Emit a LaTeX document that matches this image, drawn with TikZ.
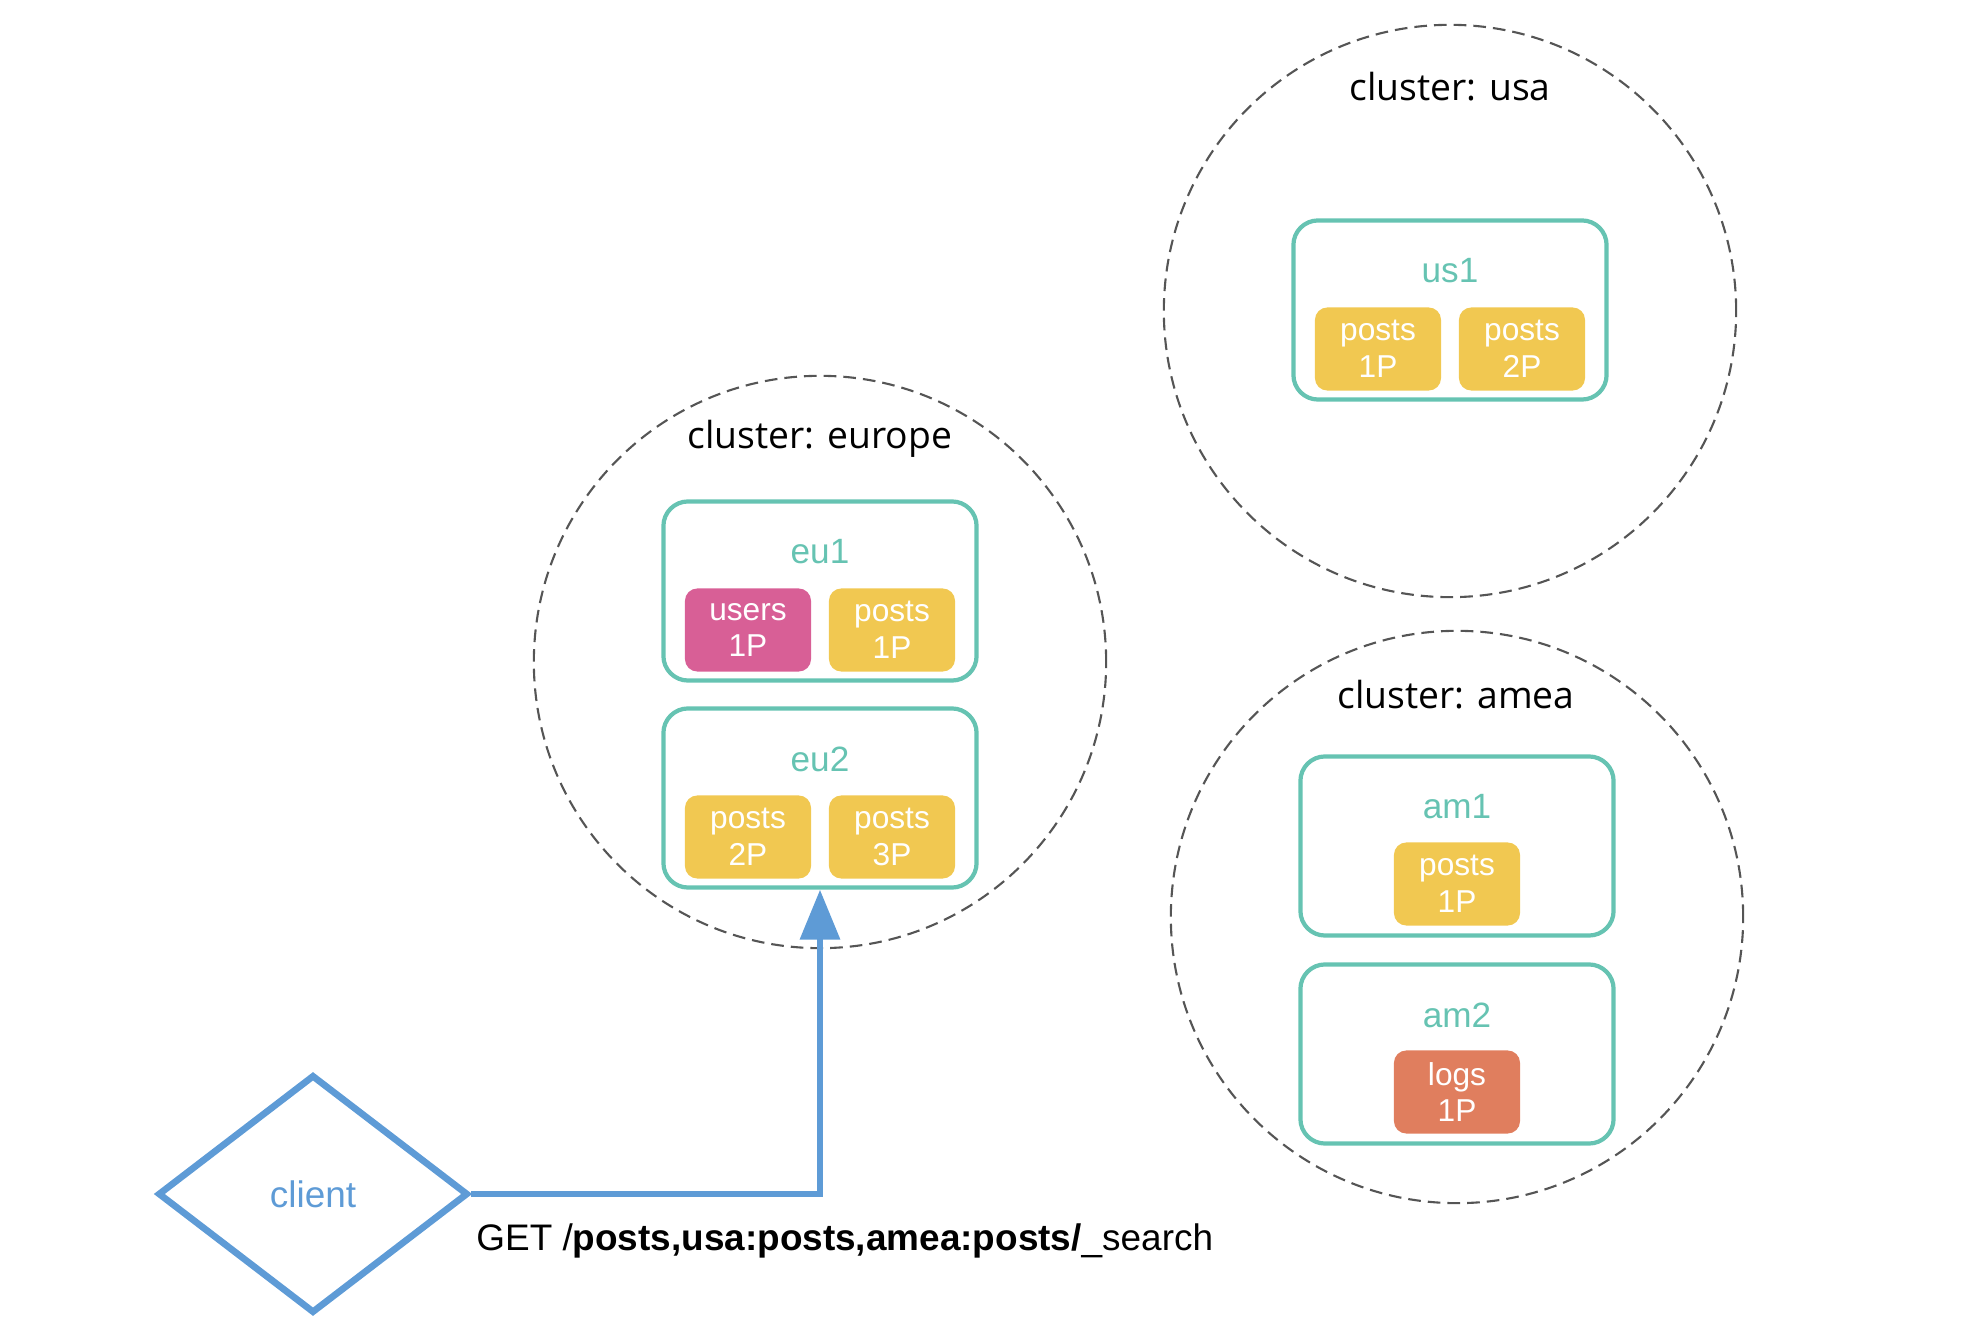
\documentclass[tikz,border=0pt]{standalone}
\usepackage{fontspec}
\setmainfont{Liberation Sans}
\newfontfamily\clusterfont{Open Sans}
\usetikzlibrary{arrows.meta, positioning, shapes.geometric, calc}
\definecolor{cteal}{HTML}{66C3B2}
\definecolor{cyellow}{HTML}{F1C851}
\definecolor{cpink}{HTML}{D85F96}
\definecolor{corange}{HTML}{E07E5E}
\definecolor{cblue}{HTML}{5E9BD6}
\definecolor{cdash}{HTML}{555555}
\tikzset{
  every picture/.style={font=\fontsize{10.5}{12.6}\selectfont},
  cluster/.style={circle, draw=cdash, line width=0.6pt, dash pattern=on 3.6pt off 2pt, minimum size=5.72cm, inner sep=0pt},
  ctitle/.style={font=\clusterfont\fontsize{10.6}{13}\selectfont},
  host/.style={draw=cteal, rounded corners=7pt, line width=1.2pt, minimum width=3.13cm, minimum height=1.79cm, inner sep=0pt},
  hostname/.style={text=cteal, font=\fontsize{10}{12}\selectfont},
  shard/.style={fill=#1, rounded corners=3.5pt, minimum width=1.26cm, minimum height=0.83cm, inner sep=0pt, text=white, align=center, font=\fontsize{9}{10.5}\selectfont},
  shard/.default=cyellow,
  flow/.style={-{Triangle[length=5mm, width=3.9mm]}, draw=cblue, line width=1.9pt},
}

\begin{document}
\begin{tikzpicture}[x=0.01cm, y=-0.01cm]
  \useasboundingbox (0,0) rectangle (1984,1334);
  % clusters
  \node[cluster] (europe) at (820,662) {};
  \node[cluster] (usa) at (1450,311) {};
  \node[cluster] (amea) at (1457,917) {};
  \node[ctitle] (europet) at (820,439) {cluster: europe};
  \node[ctitle] (usat) at (1450,87) {cluster: usa};
  \node[ctitle] (ameat) at (1456,695) {cluster: amea};

  % hosts
  \node[host] (eu1) at (820,591) {};
  \node[host] (eu2) at (820,798) {};
  \node[host] (us1) at (1450,310) {};
  \node[host] (am1) at (1457,846) {};
  \node[host] (am2) at (1457,1054) {};
  \foreach \h in {eu1, eu2, us1, am1, am2}
    \node[hostname] (\h name) at ($(\h)+(0,-39)$) {\h};

  % shards
  \node[shard=cpink] (eu1a) at ($(eu1)+(-72,39)$) {users\\1P};
  \node[shard] (eu1b) at ($(eu1)+(72,39)$) {posts\\1P};
  \node[shard] (eu2a) at ($(eu2)+(-72,39)$) {posts\\2P};
  \node[shard] (eu2b) at ($(eu2)+(72,39)$) {posts\\3P};
  \node[shard] (us1a) at ($(us1)+(-72,39)$) {posts\\1P};
  \node[shard] (us1b) at ($(us1)+(72,39)$) {posts\\2P};
  \node[shard] (am1a) at ($(am1)+(0,38)$) {posts\\1P};
  \node[shard=corange] (am2a) at ($(am2)+(0,38)$) {logs\\1P};

  % client and request
  \node[diamond, draw=cblue, line width=1.9pt, minimum width=3.1cm, minimum height=2.38cm, text=cblue] (client) at (313,1194) {client};
  \draw[flow] (client.east) -| (eu2.south);
  \node[anchor=west] (query) at (464,1241) {GET /\textbf{posts,usa:posts,amea:posts/}\_search};
\end{tikzpicture}
\end{document}
